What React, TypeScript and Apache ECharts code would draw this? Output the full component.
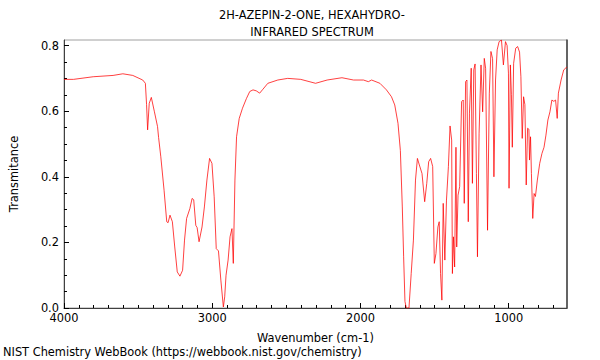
import React, { useEffect, useRef } from "react";
import * as echarts from "echarts";

const titleLines = ["2H-AZEPIN-2-ONE, HEXAHYDRO-", "INFRARED SPECTRUM"];
const footer = "NIST Chemistry WebBook (https://webbook.nist.gov/chemistry)";

const wavenumbers = [
  4000, 3936, 3803, 3669, 3603, 3536, 3469, 3451, 3443, 3436, 3425, 3411, 3391, 3369, 3362, 3347,
  3325, 3307, 3298, 3285, 3269, 3253, 3236, 3218, 3200, 3187, 3173, 3151, 3136, 3125, 3111, 3102,
  3089, 3069, 3053, 3036, 3018, 3002, 2987, 2973, 2958, 2942, 2925, 2916, 2907, 2893, 2880, 2867,
  2858, 2847, 2836, 2818, 2796, 2769, 2747, 2725, 2703, 2680, 2658, 2625, 2558, 2491, 2403, 2303,
  2225, 2125, 2047, 1980, 1947, 1925, 1869, 1825, 1791, 1769, 1747, 1731, 1718, 1709, 1700, 1691,
  1673, 1658, 1643, 1629, 1616, 1603, 1585, 1567, 1553, 1540, 1527, 1513, 1502, 1491, 1478, 1469,
  1460, 1451, 1442, 1431, 1420, 1407, 1396, 1385, 1380, 1373, 1365, 1356, 1351, 1342, 1331, 1318,
  1307, 1300, 1291, 1282, 1273, 1265, 1253, 1245, 1236, 1227, 1218, 1211, 1200, 1187, 1176, 1165,
  1156, 1143, 1131, 1120, 1109, 1100, 1089, 1078, 1065, 1049, 1036, 1022, 1011, 1002, 998, 989,
  982, 976, 967, 953, 940, 927, 918, 909, 900, 891, 882, 873, 864, 860, 853, 847,
  838, 829, 820, 807, 791, 776, 762, 749, 736, 722, 709, 696, 684, 673, 665, 647,
  629, 616, 608,
];

const transmittance = [
  0.697, 0.697, 0.705, 0.709, 0.714, 0.709, 0.695, 0.685, 0.62, 0.543, 0.624, 0.642, 0.6, 0.553, 0.52, 0.461,
  0.359, 0.263, 0.26, 0.283, 0.263, 0.186, 0.11, 0.097, 0.115, 0.207, 0.273, 0.303, 0.334, 0.33, 0.252, 0.245,
  0.202, 0.247, 0.308, 0.39, 0.456, 0.441, 0.339, 0.181, 0.174, 0.085, 0.003, 0.034, 0.1, 0.146, 0.217, 0.242,
  0.136, 0.39, 0.522, 0.578, 0.609, 0.639, 0.66, 0.665, 0.662, 0.655, 0.667, 0.685, 0.695, 0.7, 0.697, 0.685,
  0.695, 0.702, 0.695, 0.695, 0.69, 0.695, 0.685, 0.665, 0.644, 0.619, 0.563, 0.48, 0.308, 0.156, 0.02, 0.0,
  0.0, 0.105, 0.207, 0.39, 0.456, 0.436, 0.41, 0.324, 0.38, 0.446, 0.456, 0.431, 0.136, 0.166, 0.247, 0.263,
  0.105, 0.024, 0.319, 0.146, 0.329, 0.431, 0.555, 0.512, 0.105, 0.217, 0.125, 0.49, 0.186, 0.344, 0.37, 0.629,
  0.634, 0.319, 0.69, 0.695, 0.263, 0.594, 0.731, 0.38, 0.726, 0.744, 0.41, 0.156, 0.533, 0.741, 0.598, 0.761,
  0.731, 0.237, 0.655, 0.782, 0.76, 0.4, 0.695, 0.787, 0.812, 0.817, 0.741, 0.812, 0.8, 0.716, 0.365, 0.741,
  0.65, 0.49, 0.746, 0.792, 0.797, 0.78, 0.705, 0.517, 0.644, 0.62, 0.375, 0.548, 0.545, 0.451, 0.522, 0.41,
  0.273, 0.349, 0.34, 0.39, 0.441, 0.471, 0.49, 0.527, 0.573, 0.598, 0.634, 0.63, 0.634, 0.578, 0.655, 0.695,
  0.726, 0.731, 0.735,
];

const xMajorTicks = [1000, 2000, 3000, 4000];
const xMinorTicks = [
  700, 800, 900, 1100, 1200, 1300, 1400, 1500, 1600, 1700, 1800, 1900, 2100, 2200, 2300, 2400, 2500,
  2600, 2700, 2800, 2900, 3100, 3200, 3300, 3400, 3500, 3600, 3700, 3800, 3900,
];
const yMajorTicks = [0, 0.2, 0.4, 0.6, 0.8];
const yMinorTicks = [0.05, 0.1, 0.15, 0.25, 0.3, 0.35, 0.45, 0.5, 0.55, 0.65, 0.7, 0.75];

const X_MIN = 607;
const X_MAX = 4000;
const Y_MIN = 0;
const Y_MAX = 0.817;

const FONT = "DejaVu Sans";
const FS = 11.4;

export default function App() {
  const ref = useRef<HTMLDivElement>(null);

  useEffect(() => {
    if (!ref.current) return;
    const chart = echarts.init(ref.current, null, { renderer: "svg" });
    const data = wavenumbers.map((w, i) => [w, transmittance[i]]);
    const baseX = {
      type: "value" as const,
      min: X_MIN,
      max: X_MAX,
      inverse: true,
      gridIndex: 0,
      position: "bottom" as const,
      splitLine: { show: false },
    };
    const baseY = {
      type: "value" as const,
      min: Y_MIN,
      max: Y_MAX,
      gridIndex: 0,
      splitLine: { show: false },
    };
    chart.setOption({
      animation: false,
      backgroundColor: "#ffffff",
      textStyle: { fontFamily: FONT },
      grid: {
        left: 58,
        right: 33,
        top: 40,
        bottom: 52,
        show: true,
        borderColor: "#a0a0a0",
        borderWidth: 1,
        backgroundColor: "transparent",
      },
      xAxis: [
        {
          ...baseX,
          name: "Wavenumber (cm-1)",
          nameLocation: "middle",
          nameGap: 24,
          nameTextStyle: { fontFamily: FONT, fontSize: FS, color: "#000" },
          axisLine: { show: true, onZero: false, lineStyle: { color: "#404040", width: 1 } },
          axisTick: {
            show: true,
            inside: true,
            length: 5,
            customValues: xMajorTicks,
            lineStyle: { color: "#000", width: 1 },
          },
          axisLabel: {
            show: true,
            customValues: xMajorTicks,
            margin: 4,
            fontFamily: FONT,
            fontSize: FS,
            color: "#000",
            formatter: (v: number) => String(Math.round(v)),
          },
        },
        {
          ...baseX,
          axisLine: { show: false },
          axisLabel: { show: false },
          axisTick: {
            show: true,
            inside: true,
            length: 3,
            customValues: xMinorTicks,
            lineStyle: { color: "#000", width: 1 },
          },
        },
      ],
      yAxis: [
        {
          ...baseY,
          position: "left",
          name: "Transmitance",
          nameLocation: "middle",
          nameGap: 45,
          nameTextStyle: { fontFamily: FONT, fontSize: FS, color: "#000" },
          axisLine: { show: true, onZero: false, lineStyle: { color: "#404040", width: 1 } },
          axisTick: {
            show: true,
            inside: true,
            length: 5,
            customValues: yMajorTicks,
            lineStyle: { color: "#000", width: 1 },
          },
          axisLabel: {
            show: true,
            customValues: yMajorTicks,
            margin: 5,
            fontFamily: FONT,
            fontSize: FS,
            color: "#000",
            formatter: (v: number) => v.toFixed(1),
          },
        },
        {
          ...baseY,
          position: "left",
          axisLine: { show: false },
          axisLabel: { show: false },
          axisTick: {
            show: true,
            inside: true,
            length: 3,
            customValues: yMinorTicks,
            lineStyle: { color: "#000", width: 1 },
          },
        },
        {
          ...baseY,
          position: "right",
          axisLine: { show: true, onZero: false, lineStyle: { color: "#404040", width: 1.5 } },
          axisLabel: { show: false },
          axisTick: { show: false },
        },
      ],
      series: [
        {
          type: "line",
          xAxisIndex: 0,
          yAxisIndex: 0,
          data,
          showSymbol: false,
          symbol: "none",
          smooth: false,
          lineStyle: { color: "rgba(255,0,0,0.75)", width: 1 },
          clip: true,
        },
      ],
      graphic: [
        {
          type: "text",
          x: 312,
          y: 6,
          style: {
            text: titleLines.join("\n"),
            font: `${FS}px "${FONT}"`,
            fill: "#000",
            align: "center",
            verticalAlign: "top",
            lineHeight: 17,
          },
        },
        {
          type: "text",
          x: 3,
          y: 346,
          style: {
            text: footer,
            font: `${FS}px "${FONT}"`,
            fill: "#000",
            align: "left",
            verticalAlign: "top",
          },
        },
      ],
    });
    return () => chart.dispose();
  }, []);

  return (
    <div
      ref={ref}
      style={{ position: "fixed", left: 0, top: 0, width: 600, height: 360 }}
    />
  );
}
